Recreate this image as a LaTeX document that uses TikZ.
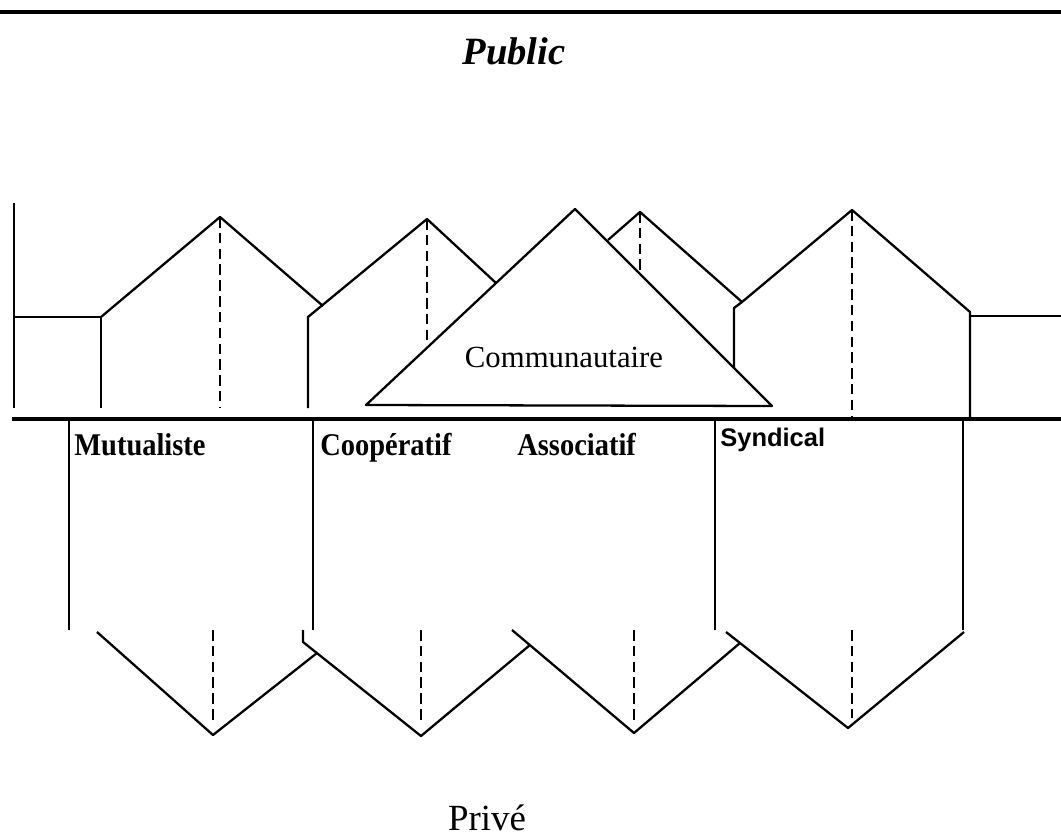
\documentclass[tikz,border=0pt]{standalone}
\usepackage{fontspec}
\setmainfont{Liberation Serif}
\newfontfamily\narrowserif[FakeStretch=0.9]{Liberation Serif}
\newfontfamily\arialfont{Liberation Sans}
\tikzset{
  wall/.style={line width=1.3pt, line join=round},
  fold/.style={line width=1.2pt, dash pattern=on 6pt off 3pt},
  rule/.style={line width=2pt},
  box/.style={line width=1.5pt},
  tag/.style={inner sep=0pt}
}
\begin{document}
\begin{tikzpicture}[x=0.02cm, y=-0.02cm]
\useasboundingbox (0,0) rectangle (1061,838);
\draw[rule] (0,12) to (1061,12);
\node[tag, anchor=base] (public) at (514,65) {\fontsize{22}{24}\selectfont\bfseries\itshape Public};
% houses
\draw[wall] (14,203) to (14,408);
\draw[wall] (14,317) to (101,317) to (101,408);
\draw[wall] (101,317) to (220,217) to (323,306);
\draw[fold] (220,217) to (220,408);
\draw[wall] (308,408) to (308,317) to (427,219) to (496,283);
\draw[fold] (427,219) to (427,343);
\draw[wall] (608,240) to (640,212) to (742,302);
\draw[fold] (640,212) to (640,272);
\draw[wall] (734,368) to (734,308) to (742,302) to (852,210) to (970,312) to (970,418);
\draw[fold] (852,210) to (852,416);
\draw[wall] (970,316) to (1061,316);
\draw[wall] (366,405) -- (575,209) -- (772,406) -- cycle;
\node[tag, anchor=base] (communautaire) at (564,367) {\fontsize{17.5}{20}\selectfont Communautaire};
\draw[rule] (12,419) to (1061,419);
% boxes
\draw[box] (69,419) to (69,630);
\draw[box] (313,419) to (313,630);
\draw[box] (715,419) to (715,630);
\draw[box] (963,419) to (963,630);
\node[tag, anchor=base west] (mutualiste) at (74,455) {\fontsize{18}{20}\narrowserif\bfseries Mutualiste};
\node[tag, anchor=base west] (cooperatif) at (320,455) {\fontsize{18}{20}\narrowserif\bfseries Coopératif};
\node[tag, anchor=base west] (associatif) at (517,455) {\fontsize{18}{20}\narrowserif\bfseries Associatif};
\node[tag, anchor=base west] (syndical) at (720,446) {\fontsize{14.5}{17}\arialfont\bfseries Syndical};
% lower zigzag
\draw[wall] (97,632) to (213,735) to (317,653);
\draw[wall] (303,630) to (303,642) to (421,736) to (530,645);
\draw[wall] (512,630) to (634,733) to (740,643);
\draw[wall] (726,632) to (848,728) to (964,632);
\draw[fold] (213,630) to (213,722);
\draw[fold] (421,630) to (421,724);
\draw[fold] (634,630) to (634,721);
\draw[fold] (852,630) to (852,718);
\node[tag, anchor=base] (prive) at (487,830) {\fontsize{21}{24}\selectfont Privé};
\end{tikzpicture}
\end{document}
